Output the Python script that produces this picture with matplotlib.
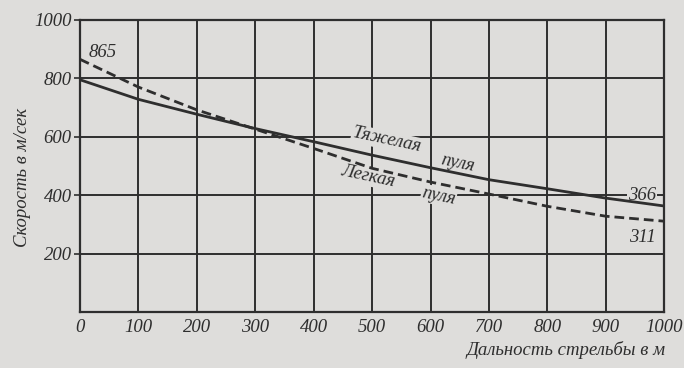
import matplotlib.pyplot as plt

# distance, m
distance = [0, 100, 200, 300, 400, 500, 600, 700, 800, 900, 1000]
# heavy bullet speed, m/s
heavy = [795, 728, 677, 628, 583, 537, 494, 453, 422, 390, 363]
# light bullet speed, m/s
light = [865, 770, 692, 626, 560, 492, 445, 404, 362, 328, 311]

x_ticks = [0, 100, 200, 300, 400, 500, 600, 700, 800, 900, 1000]
y_ticks = [200, 400, 600, 800, 1000]

bg = '#dedddb'
ink = '#2e2e2e'

plt.rcParams['font.family'] = ['Liberation Serif', 'DejaVu Serif']
plt.rcParams['font.style'] = 'italic'

fig = plt.figure(figsize=(6.84, 3.68), dpi=100, facecolor=bg)
ax = fig.add_axes([0.117, 0.152, 0.854, 0.794], facecolor=bg)

ax.plot(distance, heavy, color=ink, lw=2.0, zorder=3)
ax.plot(distance, light, color=ink, lw=2.0, ls=(0, (3.5, 1.8)), zorder=3)

ax.set_xlim(0, 1000)
ax.set_ylim(0, 1000)
ax.set_xticks(x_ticks)
ax.set_yticks(y_ticks)
ax.grid(True, color=ink, lw=1.4)
ax.set_axisbelow(True)
for s in ax.spines.values():
    s.set_color(ink)
    s.set_linewidth(1.6)

ax.tick_params(axis='x', length=0, pad=5, labelsize=13.5, colors=ink)
ax.tick_params(axis='y', length=4, width=1.2, pad=2, labelsize=13.5, colors=ink)
for lab in ax.get_xticklabels() + ax.get_yticklabels():
    lab.set_style('italic')

# labels sit above the grid but below the curves
lbl = dict(color=ink, fontsize=13.5, style='italic', va='center', zorder=2.5,
           bbox=dict(facecolor=bg, edgecolor='none', pad=1))
ax.text(14, 889, '865', **lbl)
ax.text(986, 400, '366', ha='right', **lbl)
ax.text(986, 255, '311', ha='right', **lbl)

word = dict(color=ink, fontsize=13.5, style='italic', rotation=-12,
            ha='center', va='center', zorder=2.5,
            bbox=dict(facecolor=bg, edgecolor='none', pad=0.5))
ax.text(525, 588, 'Тяжелая', **word)
ax.text(646, 511, 'пуля', **word)
ax.text(493, 463, 'Легкая', **word)
ax.text(614, 397, 'пуля', **word)

ax.set_xlabel('Дальность стрельбы в м', fontsize=13.5, style='italic',
              color=ink, ha='right', va='center')
ax.xaxis.set_label_coords(1.003, -0.13)
ax.set_ylabel('Скорость в м/сек', fontsize=13.5, style='italic',
              color=ink, va='center')
ax.yaxis.set_label_coords(-0.099, 0.462)

fig.savefig('out.png', dpi=100, facecolor=bg)
